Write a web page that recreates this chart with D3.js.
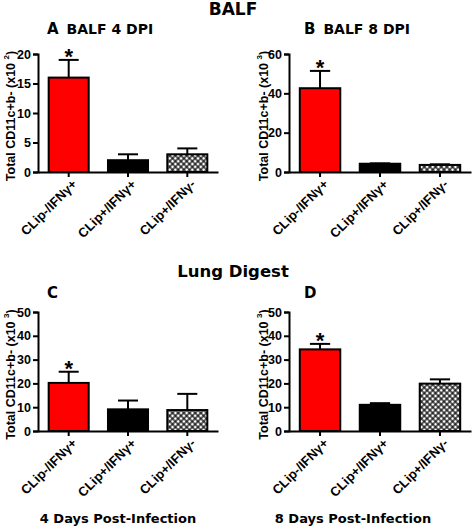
<!DOCTYPE html>
<html>
<head>
<meta charset="utf-8">
<script src="https://cdn.jsdelivr.net/npm/d3@7"></script>
<style>
  html, body { margin: 0; padding: 0; background: #fff; }
  svg { display: block; font-family: "Liberation Sans", Arial, sans-serif; font-weight: bold; }
  .dv { font-family: "DejaVu Sans", sans-serif; }
</style>
</head>
<body>
<svg id="chart" width="472" height="529"></svg>
<script>
// ---- data ----
const categories = ["CLip-/IFNγ+", "CLip+/IFNγ+", "CLip+/IFNγ-"];
const meansA = [16, 2, 3];
const semA = [3, 1, 1];
const meansB = [42.6, 4.2, 3.6];
const semB = [8.8, 0.2, 0.3];
const meansC = [20.2, 9.1, 8.8];
const semC = [4.7, 3.7, 6.8];
const meansD = [34.3, 11.0, 19.9];
const semD = [2.3, 0.7, 1.8];
const significant = [true, false, false];
const ticksA = [0, 5, 10, 15, 20];
const ticksB = [0, 20, 40, 60];
const ticksC = [0, 10, 20, 30, 40, 50];
const ticksD = [0, 10, 20, 30, 40, 50];
const panelLetters = ["A", "B", "C", "D"];
const panelSubtitles = ["BALF 4 DPI", "BALF 8 DPI", "", ""];
const exponents = ["2", "3", "3", "3"];
const sectionTitles = ["BALF", "Lung Digest"];
const xTitles = ["4 Days Post-Infection", "8 Days Post-Infection"];
const yLabelText = "Total CD11c+b- (x10 ";

const fills = ["#ff0000", "#000000", "url(#hatch)"];

const svg = d3.select("#chart");

// crosshatch pattern
const defs = svg.append("defs");
const pat = defs.append("pattern")
  .attr("id", "hatch").attr("patternUnits", "userSpaceOnUse")
  .attr("width", 4).attr("height", 4)
  .attr("patternTransform", "rotate(45)");
pat.append("rect").attr("width", 4).attr("height", 4).attr("fill", "#fff");
pat.append("rect").attr("x", 0).attr("y", 1.4).attr("width", 4).attr("height", 1.2).attr("fill", "#000");
pat.append("rect").attr("x", 1.4).attr("y", 0).attr("width", 1.2).attr("height", 4).attr("fill", "#000");

const panels = [
  { means: meansA, sem: semA, ticks: ticksA, x0: 38, x1: 218, yTop: 54, yBot: 172, yLabX: 15 },
  { means: meansB, sem: semB, ticks: ticksB, x0: 289, x1: 471, yTop: 54, yBot: 172, yLabX: 268 },
  { means: meansC, sem: semC, ticks: ticksC, x0: 38, x1: 218, yTop: 312, yBot: 431, yLabX: 15 },
  { means: meansD, sem: semD, ticks: ticksD, x0: 289, x1: 471, yTop: 312, yBot: 431, yLabX: 268 }
];

panels.forEach((p, i) => {
  const g = svg.append("g");
  const x = d3.scaleBand().domain(categories).range([p.x0, p.x1])
    .paddingInner(0.325).paddingOuter(0.18);
  const y = d3.scaleLinear().domain([0, d3.max(p.ticks)]).range([p.yBot, p.yTop]);

  categories.forEach((c, k) => {
    const cx = x(c) + x.bandwidth() / 2;
    const top = y(p.means[k] + p.sem[k]);
    g.append("line").attr("x1", cx).attr("x2", cx)
      .attr("y1", y(p.means[k])).attr("y2", top)
      .attr("stroke", "#000").attr("stroke-width", 2);
    g.append("line").attr("x1", cx - x.bandwidth() / 4).attr("x2", cx + x.bandwidth() / 4)
      .attr("y1", top).attr("y2", top)
      .attr("stroke", "#000").attr("stroke-width", 2);
    g.append("rect")
      .attr("x", x(c)).attr("width", x.bandwidth())
      .attr("y", y(p.means[k])).attr("height", y(0) - y(p.means[k]))
      .attr("fill", fills[k]).attr("stroke", "#000").attr("stroke-width", 2);
    if (significant[k]) {
      g.append("text").attr("x", cx).attr("y", top + 4)
        .attr("text-anchor", "middle").attr("font-size", 22).text("*");
    }
  });

  const ya = g.append("g").attr("transform", `translate(${p.x0},0)`)
    .call(d3.axisLeft(y).tickValues(p.ticks).tickSize(5).tickPadding(2).tickFormat(d3.format("d")));
  ya.select(".domain").attr("stroke-width", 2);
  ya.selectAll(".tick line").attr("stroke-width", 2);
  ya.selectAll("text").attr("font-size", 12.5).attr("font-weight", "bold").attr("font-family", "Liberation Sans, Arial, sans-serif");

  const xa = g.append("g").attr("transform", `translate(0,${p.yBot})`)
    .call(d3.axisBottom(x).tickSize(5).tickSizeOuter(0).tickFormat(""));
  xa.select(".domain").attr("stroke-width", 2);
  xa.selectAll(".tick line").attr("stroke-width", 2);

  categories.forEach((c, k) => {
    const cx = x(c) + x.bandwidth() / 2;
    g.append("text")
      .attr("transform", `translate(${cx + 9},${p.yBot + 13}) rotate(-45)`)
      .attr("text-anchor", "end").attr("font-size", 13).text(c);
  });

  const yl = g.append("text")
    .attr("transform", `translate(${p.yLabX},${(p.yTop + p.yBot) / 2 + 3}) rotate(-90)`)
    .attr("text-anchor", "middle").attr("font-size", 12.5);
  yl.append("tspan").text(yLabelText);
  yl.append("tspan").attr("font-size", 8).attr("dy", -6).text(exponents[i]);
  yl.append("tspan").attr("dy", 6).text(")");

  const tt = g.append("text").attr("class", "dv")
    .attr("x", i % 2 === 0 ? 47 : 304).attr("y", i < 2 ? 34 : 298);
  tt.append("tspan").attr("font-size", 15).text(panelLetters[i]);
  if (panelSubtitles[i]) tt.append("tspan").attr("font-size", 14).attr("dx", 8).text(panelSubtitles[i]);
});

svg.append("text").attr("class", "dv").attr("x", 233).attr("y", 15).attr("text-anchor", "middle")
  .attr("font-size", 17).text(sectionTitles[0]);
svg.append("text").attr("class", "dv").attr("x", 233).attr("y", 277).attr("text-anchor", "middle")
  .attr("font-size", 16.5).text(sectionTitles[1]);

svg.append("text").attr("class", "dv").attr("x", 118).attr("y", 523).attr("text-anchor", "middle")
  .attr("font-size", 13).text(xTitles[0]);
svg.append("text").attr("class", "dv").attr("x", 353).attr("y", 523).attr("text-anchor", "middle")
  .attr("font-size", 13).text(xTitles[1]);
</script>
</body>
</html>
